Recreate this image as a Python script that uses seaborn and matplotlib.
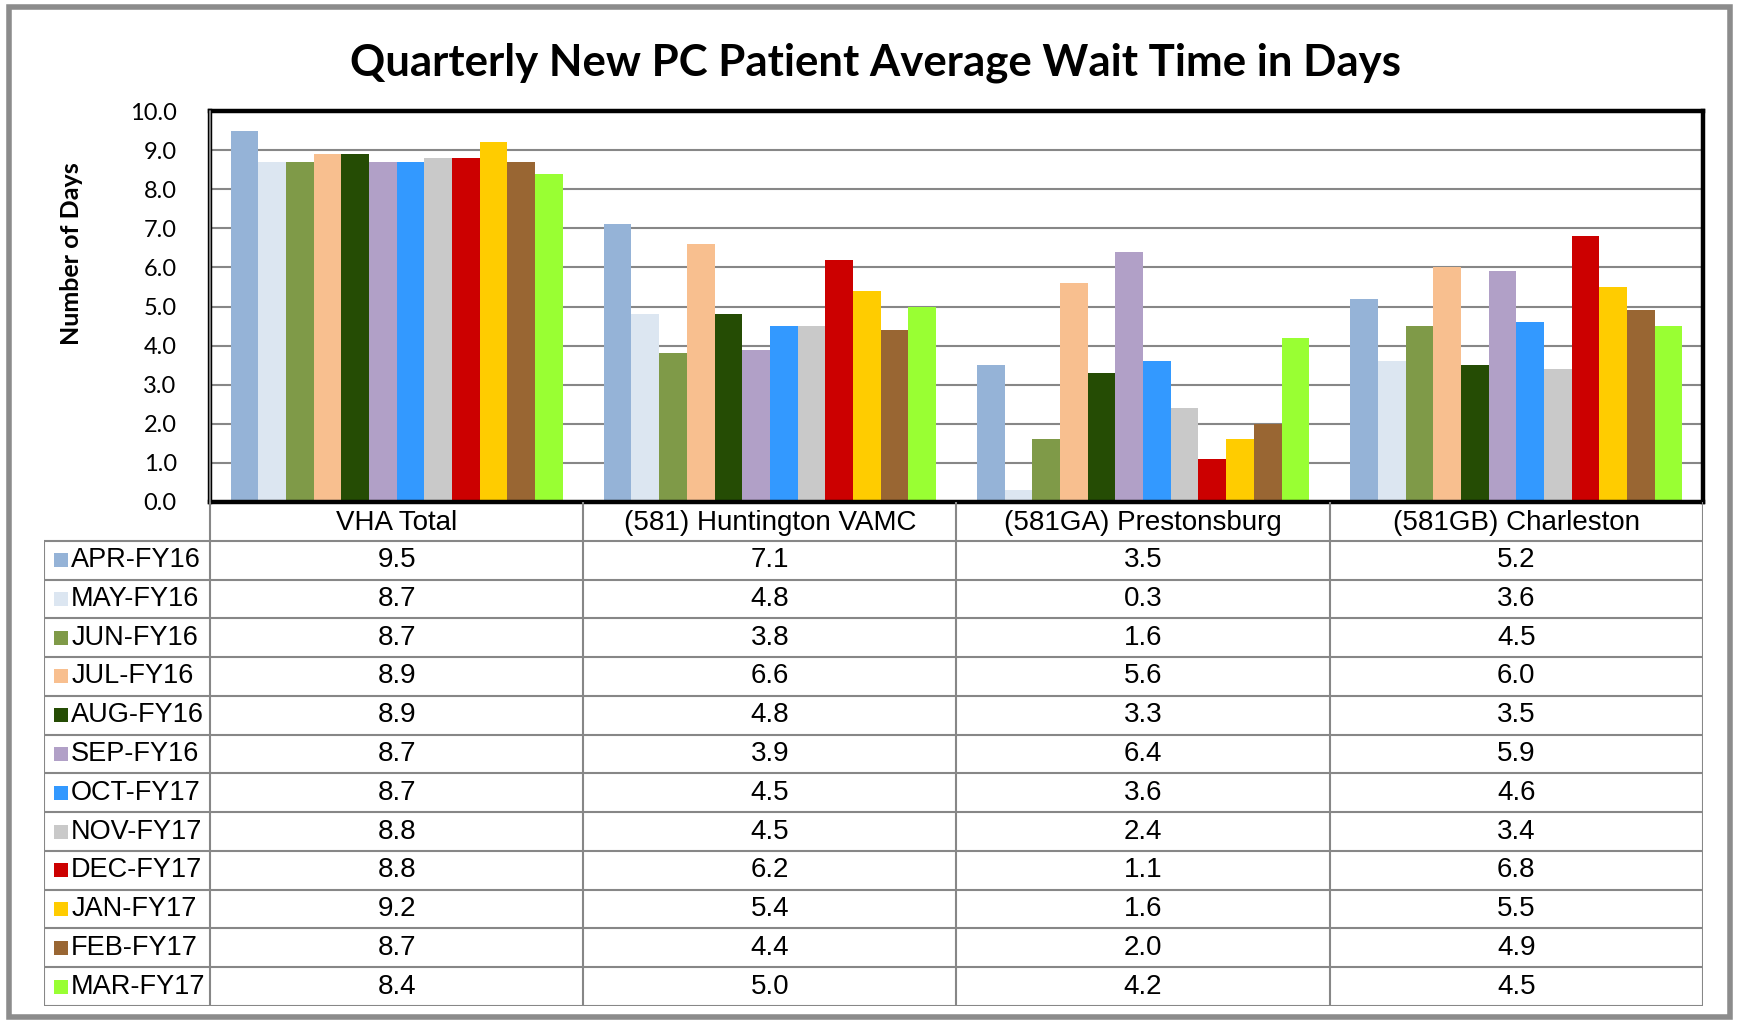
import pandas as pd
import matplotlib.pyplot as plt
import seaborn as sns
from matplotlib.patches import Rectangle

sites = ['VHA Total', '(581) Huntington VAMC', '(581GA) Prestonsburg', '(581GB) Charleston']
months = ['APR-FY16', 'MAY-FY16', 'JUN-FY16', 'JUL-FY16', 'AUG-FY16', 'SEP-FY16',
          'OCT-FY17', 'NOV-FY17', 'DEC-FY17', 'JAN-FY17', 'FEB-FY17', 'MAR-FY17']
vha_total = [9.5, 8.7, 8.7, 8.9, 8.9, 8.7, 8.7, 8.8, 8.8, 9.2, 8.7, 8.4]
huntington = [7.1, 4.8, 3.8, 6.6, 4.8, 3.9, 4.5, 4.5, 6.2, 5.4, 4.4, 5.0]
prestonsburg = [3.5, 0.3, 1.6, 5.6, 3.3, 6.4, 3.6, 2.4, 1.1, 1.6, 2.0, 4.2]
charleston = [5.2, 3.6, 4.5, 6.0, 3.5, 5.9, 4.6, 3.4, 6.8, 5.5, 4.9, 4.5]
month_colors = ['#95B3D7', '#DCE6F1', '#7F9A48', '#F8BF8F', '#254C04', '#B1A0C7',
                '#3399FF', '#C9C9C9', '#CC0000', '#FFCC00', '#996633', '#99FF33']

W, H = 1737, 1023
GRID = '#878787'

# long format for seaborn
rows = []
for site, vals in zip(sites, [vha_total, huntington, prestonsburg, charleston]):
    for m, v in zip(months, vals):
        rows.append({'site': site, 'month': m, 'days': v})
df = pd.DataFrame(rows)

sns.set_style('white')
plt.rcParams['font.family'] = ['Lato', 'DejaVu Sans']
for k in ['text.color', 'axes.labelcolor', 'xtick.color', 'ytick.color']:
    plt.rcParams[k] = 'black'

fig = plt.figure(figsize=(W / 100, H / 100), dpi=100)

# outer chart frame
fig.patches.append(Rectangle((9 / W, 6 / H), 1721 / W, 1010 / H, transform=fig.transFigure,
                             fill=False, edgecolor='#8c8c8c', linewidth=4))

# main bar axes
px_l, px_r, px_t, px_b = 210, 1703, 111, 502
ax = fig.add_axes([px_l / W, 1 - px_b / H, (px_r - px_l) / W, (px_b - px_t) / H])
sns.barplot(data=df, x='site', y='days', hue='month', order=sites, hue_order=months,
            palette=month_colors, saturation=1, width=0.89, linewidth=0, ax=ax,
            legend=False, errorbar=None)
ax.set_xlim(-0.5, 3.5)
ax.set_ylim(0, 10)
ax.set_yticks(range(0, 11))
ax.set_yticklabels([f'{t:.1f}' for t in range(0, 11)], fontsize=17)
ax.tick_params(axis='y', length=0, pad=24)
ax.set_xticks([])
ax.set_xlabel('')
ax.set_ylabel('Number of Days', fontsize=18, fontweight='bold')
ax.yaxis.set_label_coords((83 - px_l) / (px_r - px_l), (px_b - 254) / (px_b - px_t))
ax.yaxis.grid(True, color=GRID, linewidth=1.5)
ax.set_axisbelow(True)
for s in ax.spines.values():
    s.set_visible(True)
    s.set_color('black')
    s.set_linewidth(3.2)
# double-line look on the left edge
ax.axvline(-0.5, color='#9a9a9a', linewidth=1.2, zorder=5, clip_on=False)

fig.text(876 / W, 1 - 63 / H, 'Quarterly New PC Patient Average Wait Time in Days',
         ha='center', va='center', fontsize=31.5, fontweight='bold')

# data table below the plot
tb_l, tb_b = 44, 1006
col_w = (px_r - px_l) / 4
lab_w = (px_l - tb_l) / col_w
tax = fig.add_axes([tb_l / W, 1 - tb_b / H, (px_r - tb_l) / W, (tb_b - px_b) / H])
tax.set_xlim(-0.5 - lab_w, 3.5)
tax.set_ylim(len(months) + 1, 0)
tax.axis('off')

left = -0.5 - lab_w
tax.hlines(range(1, len(months) + 2), left, 3.5, color=GRID, linewidth=1.5)
tax.vlines([left], 1, len(months) + 1, color=GRID, linewidth=1.5)
tax.vlines([-0.5, 0.5, 1.5, 2.5, 3.5], 0, len(months) + 1, color=GRID, linewidth=1.5)

tf = ['Liberation Sans', 'DejaVu Sans']
for j, site in enumerate(sites):
    tax.text(j, 0.55, site, ha='center', va='center', fontsize=20, family=tf)

all_vals = [vha_total, huntington, prestonsburg, charleston]
for i, m in enumerate(months):
    y = i + 1.5
    tax.scatter([left + 0.045], [y], marker='s', s=95, color=month_colors[i], linewidths=0)
    tax.text(left + 0.073, y, m, ha='left', va='center', fontsize=19.5, family=tf)
    for j, vals in enumerate(all_vals):
        tax.text(j, y, f'{vals[i]:.1f}', ha='center', va='center', fontsize=20, family=tf)

fig.savefig('out.png', dpi=100)
